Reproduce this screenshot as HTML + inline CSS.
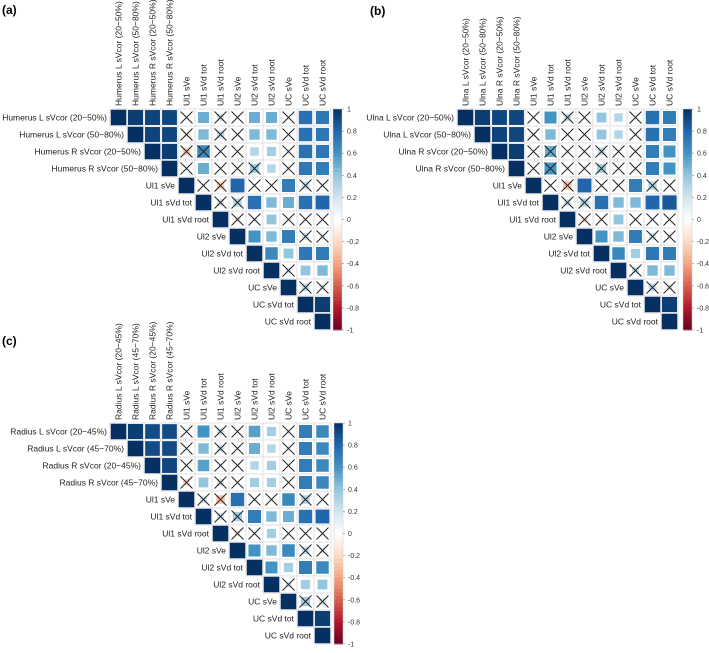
<!DOCTYPE html>
<html><head><meta charset="utf-8"><style>
body{margin:0;background:#fff;width:709px;height:648px;overflow:hidden}
svg text{font-family:"Liberation Sans",Arial,sans-serif}
</style></head><body>
<svg id="chart" width="709" height="648" viewBox="0 0 709 648" xmlns="http://www.w3.org/2000/svg"></svg>
<script>
const commonVars = ["Ul1 sVe","Ul1 sVd tot","Ul1 sVd root","Ul2 sVe","Ul2 sVd tot","Ul2 sVd root","UC sVe","UC sVd tot","UC sVd root"];
const varsA = ["Humerus L sVcor (20\u221250%)","Humerus L sVcor (50\u221280%)","Humerus R sVcor (20\u221250%)","Humerus R sVcor (50\u221280%)"].concat(commonVars);
const varsB = ["Ulna L sVcor (20\u221250%)","Ulna L sVcor (50\u221280%)","Ulna R sVcor (20\u221250%)","Ulna R sVcor (50\u221280%)"].concat(commonVars);
const varsC = ["Radius L sVcor (20\u221245%)","Radius L sVcor (45\u221270%)","Radius R sVcor (20\u221245%)","Radius R sVcor (45\u221270%)"].concat(commonVars);
// upper-triangle rows (starting at diagonal)
const valsA = [
 [1,.95,.93,.92,-.05,.5,.2,.05,.5,.5,.02,.75,.72],
 [1,.93,.92,-.15,.45,.25,.05,.45,.45,.02,.75,.72],
 [1,.95,-.25,.65,.03,.02,.3,.35,.02,.75,.72],
 [1,.05,.5,.03,.03,.35,.3,.02,.72,.7],
 [1,.05,-.25,.8,.03,.03,.7,.25,.05],
 [1,.2,.3,.75,.45,.5,.75,.8],
 [1,-.15,.05,.4,.02,.03,.03],
 [1,.6,.45,.7,.2,.1],
 [1,.65,.4,.72,.7],
 [1,.15,.4,.45],
 [1,.25,.15],
 [1,.95],
 [1]];
const sigA = [
 [1,1,1,1,0,1,0,0,1,1,0,1,1],
 [1,1,1,0,1,0,0,1,1,0,1,1],
 [1,1,0,0,0,0,1,1,0,1,1],
 [1,0,1,0,0,0,1,0,1,1],
 [1,0,0,1,0,0,1,0,0],
 [1,0,0,1,1,1,1,1],
 [1,0,0,1,0,0,0],
 [1,1,1,1,0,0],
 [1,1,1,1,1],
 [1,0,1,1],
 [1,0,0],
 [1,1],
 [1]];
const valsB = [
 [1,.95,.92,.92,.02,.6,.25,.02,.4,.3,.02,.75,.7],
 [1,.93,.92,-.1,.45,.05,.03,.4,.3,.02,.75,.7],
 [1,.95,.02,.5,.03,.02,.25,.03,.02,.7,.6],
 [1,.03,.6,.03,.03,.35,.03,.02,.7,.6],
 [1,.05,-.3,.8,.03,.03,.7,.3,.05],
 [1,.2,.3,.75,.45,.45,.8,.85],
 [1,-.15,.03,.4,.02,.03,.03],
 [1,.6,.45,.7,.2,.1],
 [1,.65,.35,.72,.7],
 [1,.2,.45,.45],
 [1,.25,.15],
 [1,.95],
 [1]];
const sigB = [
 [1,1,1,1,0,1,0,0,1,1,0,1,1],
 [1,1,1,0,1,0,0,1,1,0,1,1],
 [1,1,0,0,0,0,0,0,0,1,1],
 [1,0,0,0,0,0,0,0,1,1],
 [1,0,0,1,0,0,1,0,0],
 [1,0,0,1,1,1,1,1],
 [1,0,0,1,0,0,0],
 [1,1,1,1,0,0],
 [1,1,1,1,1],
 [1,0,1,1],
 [1,0,0],
 [1,1],
 [1]];
const valsC = [
 [1,.95,.9,.9,.03,.6,.2,.03,.55,.35,.02,.7,.65],
 [1,.9,.9,.03,.45,.2,.05,.5,.3,.02,.7,.65],
 [1,.92,.03,.55,.05,.03,.3,.35,.02,.7,.65],
 [1,-.2,.4,.2,.03,.35,.35,.02,.7,.65],
 [1,.2,-.3,.75,.03,.03,.65,.3,.05],
 [1,.2,.35,.7,.45,.5,.75,.8],
 [1,-.15,.05,.35,.02,.03,.05],
 [1,.6,.45,.65,.25,.15],
 [1,.6,.35,.7,.65],
 [1,.15,.35,.4],
 [1,.35,.2],
 [1,.95],
 [1]];
const sigC = [
 [1,1,1,1,0,1,0,0,1,1,0,1,1],
 [1,1,1,0,1,0,0,1,1,0,1,1],
 [1,1,0,1,0,0,1,1,0,1,1],
 [1,0,1,0,0,1,1,0,1,1],
 [1,0,0,1,0,0,1,0,0],
 [1,0,0,1,1,1,1,1],
 [1,0,0,1,0,0,0],
 [1,1,1,1,0,0],
 [1,1,1,1,1],
 [1,0,1,1],
 [1,0,0],
 [1,1],
 [1]];
const colorbarTicks = ["1","0.8","0.6","0.4","0.2","0","-0.2","-0.4","-0.6","-0.8","-1"];

const NS="http://www.w3.org/2000/svg";
const svg=document.getElementById('chart');
const stops=["#67001F","#B2182B","#D6604D","#F4A582","#FDDBC7","#FFFFFF","#D1E5F0","#92C5DE","#4393C3","#2166AC","#053061"];
function hex(h){return [1,3,5].map(i=>parseInt(h.substr(i,2),16));}
function col(v){const t=(v+1)/2*10;const i=Math.min(9,Math.floor(t));const f=t-i;const a=hex(stops[i]),b=hex(stops[i+1]);
 return "rgb("+a.map((x,k)=>Math.round(x+(b[k]-x)*f)).join(",")+")";}
function el(tag,attrs,parent){const e=document.createElementNS(NS,tag);for(const k in attrs)e.setAttribute(k,attrs[k]);(parent||svg).appendChild(e);return e;}

function panel(id,vars,vals,sig,x0,y0,cbx,letter,lx,ly){
 const C=17,n=vars.length;
 const g=el('g',{});
 
 
 const pl=el('text',{x:lx,y:ly,'font-size':12,'font-weight':'bold'},g);pl.textContent=letter;
 
 
 const xs=j=>x0+j*C, ys=i=>y0+i*C;
 for(let i=0;i<n;i++){
  for(let j=i;j<n;j++){
   const v=vals[i][j-i], s=sig[i][j-i];
   const cx=xs(j),cy=ys(i);
   const cg=el('g',{},g);
   
   
   el('rect',{x:cx,y:cy,width:C,height:C,fill:'#fff',stroke:'#dcdcdc','stroke-width':0.8},cg);
   const side=(C-1.5)*Math.sqrt(Math.abs(v));
   el('rect',{x:cx+C/2-side/2,y:cy+C/2-side/2,width:side,height:side,fill:col(v)},cg);
   if(!s){
    el('path',{d:`M${cx+2.5} ${cy+2.5}L${cx+C-2.5} ${cy+C-2.5}M${cx+C-2.5} ${cy+2.5}L${cx+2.5} ${cy+C-2.5}`,stroke:'#222','stroke-width':1},cg);
   }
  }
  const rl=el('text',{x:xs(i)-3,y:ys(i)+C/2+3,'font-size':8.5,'text-anchor':'end',fill:'#222'},g);
  rl.textContent=vars[i];
  
  
  const tx=xs(i)+C/2+3, ty=y0-3;
  const cl=el('text',{x:tx,y:ty,'font-size':8.5,'text-anchor':'start',fill:'#222',transform:`rotate(-90 ${tx} ${ty})`},g);
  cl.textContent=vars[i];
  
  
 }
 // colorbar
 const H=n*C, W=9, N=60;
 const cb=el('g',{},g);
 
 
 for(let k=0;k<N;k++){
  const v=1-2*(k+0.5)/N;
  el('rect',{x:cbx,y:y0+k*H/N,width:W,height:H/N+0.5,fill:col(v)},cb);
 }
 el('rect',{x:cbx,y:y0,width:W,height:H,fill:'none',stroke:'#ccc','stroke-width':0.5},cb);
 colorbarTicks.forEach((t,k)=>{
  const yy=y0+k*H/(colorbarTicks.length-1);
  el('line',{x1:cbx+W,x2:cbx+W+2,y1:yy,y2:yy,stroke:'#888','stroke-width':0.6},cb);
  const tt=el('text',{x:cbx+W+5,y:yy+2.5,'font-size':7,fill:'#333'},cb);
  tt.textContent=t;
  
  
 });
}
panel('a',varsA,valsA,sigA,110,109,333,'(a)',2,14);
panel('b',varsB,valsB,sigB,457,109,683,'(b)',370,15);
panel('c',varsC,valsC,sigC,110,423,334,'(c)',2,345);
</script>
</body></html>
